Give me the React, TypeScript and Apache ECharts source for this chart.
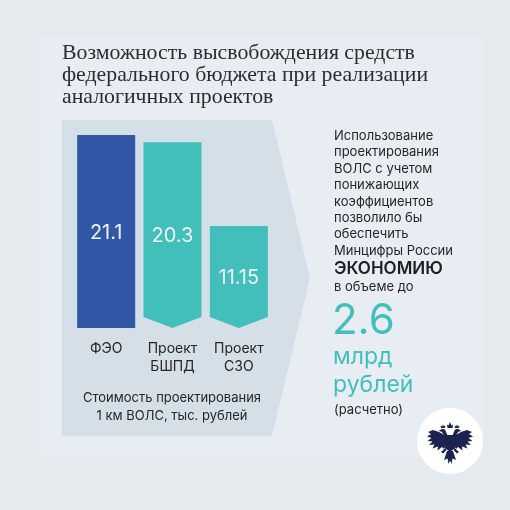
import React, { useEffect, useRef } from 'react';
import * as echarts from 'echarts';

const categories = ['ФЭО', 'Проект\nБШПД', 'Проект\nСЗО'];
const values = [21.1, 20.3, 11.15];
const barColors = ['#3357a7', '#43bfbb', '#43bfbb'];
const chevronBottom = [false, true, true];

const titleLines = [
  'Возможность высвобождения средств',
  'федерального бюджета при реализации',
  'аналогичных проектов',
];
const axisCaption = ['Стоимость проектирования', '1 км ВОЛС, тыс. рублей'];
const noteLines = [
  'Использование',
  'проектирования',
  'ВОЛС с учетом',
  'понижающих',
  'коэффициентов',
  'позволило бы',
  'обеспечить',
  'Минцифры России',
];
const highlightWord = 'ЭКОНОМИЮ';
const volumeText = 'в объеме до';
const savingValue = '2.6';
const savingUnitLines = ['млрд', 'рублей'];
const footnote = '(расчетно)';

const EAGLE_HALF =
  'M19 15 L12 11 L6 9 L1 11 L4 13 L0 15.5 L4.5 17 L0.5 20 L5.5 20.5 L2 24 L7.5 23.5 L5.5 27.5 L11 25.5 L10.5 29.5 L15 26 L17 28 L19 24 Z ' +
  'M21 16 C20 13 19 11 18.5 9.5 C17.5 8 15.5 7.8 14 8.5 L11.5 10 L14 10.5 C15 11 16 12.5 17 14 L19 17 Z ' +
  'M14 7 L13.5 4.5 L15 5.5 L16 3.5 L17 5.5 L18.5 4.5 L18 7 Z ' +
  'M18.5 27 L14 31 L16 32.5 L19.5 29 Z';
const EAGLE_CORE =
  'M20.5 7 L20 3.5 L21.5 4.5 L23 1 L24.5 4.5 L26 3.5 L25.5 7 Z ' +
  'M18.5 14 L27.5 14 L28 27 L23 31 L18 27 Z ' +
  'M26 30 L29 39 L25.5 37.5 L24.5 43 L23 39.5 L21.5 43 L20.5 37.5 L17 39 L20 30 Z';

let shapesRegistered = false;
function registerShapes() {
  if (shapesRegistered) return;
  echarts.graphic.registerShape('eagleHalf', echarts.graphic.extendPath(EAGLE_HALF, {}) as any);
  echarts.graphic.registerShape('eagleCore', echarts.graphic.extendPath(EAGLE_CORE, {}) as any);
  shapesRegistered = true;
}

export default function App() {
  const ref = useRef<HTMLDivElement>(null);
  useEffect(() => {
    if (!ref.current) return;
    registerShapes();
    const chart = echarts.init(ref.current, null, { renderer: 'svg', width: 510, height: 510 });
    const dark = '#262626';
    const teal = '#43bfbb';
    const sans = 'Inter';
    const ex = 427;
    const ey = 421;
    chart.setOption({
      animation: false,
      grid: { left: 73, right: 238, top: 135, bottom: 182 },
      xAxis: {
        type: 'category',
        data: categories,
        axisLine: { show: false },
        axisTick: { show: false },
        axisLabel: { fontSize: 14, color: dark, lineHeight: 18, margin: 10, fontFamily: sans },
      },
      yAxis: { type: 'value', min: 0, max: 21.1, show: false, splitLine: { show: false } },
      graphic: [
        { type: 'rect', z: -20, shape: { x: 0, y: 0, width: 510, height: 510 }, style: { fill: '#e4eaee' } },
        { type: 'rect', z: -19, shape: { x: 40, y: 36, width: 443, height: 421 }, style: { fill: '#e8edf4' } },
        {
          type: 'polygon',
          z: -18,
          shape: { points: [[62, 120], [272, 120], [310, 278], [272, 436], [62, 436]] },
          style: { fill: '#d5dfe8' },
        },
        {
          type: 'text',
          x: 62,
          y: 40.5,
          style: {
            text: titleLines.join('\n'),
            fontFamily: 'Liberation Serif',
            fontSize: 21.8,
            lineHeight: 22,
            fill: '#2c2c2c',
            verticalAlign: 'top',
          },
        },
        {
          type: 'text',
          x: 172,
          y: 388,
          style: {
            text: axisCaption.join('\n'),
            fontFamily: sans,
            fontSize: 13,
            lineHeight: 18.3,
            fill: dark,
            align: 'center',
            verticalAlign: 'top',
          },
        },
        {
          type: 'text',
          x: 334,
          y: 126.8,
          style: { text: noteLines.join('\n'), fontFamily: sans, fontSize: 13, lineHeight: 16.4, fill: dark, verticalAlign: 'top' },
        },
        {
          type: 'text',
          x: 334,
          y: 268.3,
          style: { text: highlightWord, fontFamily: sans, fontSize: 17, fontWeight: 600, fill: '#1e1e1e', verticalAlign: 'middle' },
        },
        {
          type: 'text',
          x: 334,
          y: 285.7,
          style: { text: volumeText, fontFamily: sans, fontSize: 13, fill: dark, verticalAlign: 'middle' },
        },
        {
          type: 'text',
          x: 332,
          y: 318,
          style: { text: savingValue, fontFamily: sans, fontSize: 42, fill: teal, verticalAlign: 'middle' },
        },
        {
          type: 'text',
          x: 333,
          y: 356,
          style: { text: savingUnitLines[0], fontFamily: sans, fontSize: 23, fill: teal, verticalAlign: 'middle' },
        },
        {
          type: 'text',
          x: 333,
          y: 384,
          style: { text: savingUnitLines[1], fontFamily: sans, fontSize: 23, fill: teal, verticalAlign: 'middle' },
        },
        {
          type: 'text',
          x: 334,
          y: 408.5,
          style: { text: footnote, fontFamily: sans, fontSize: 13, fill: dark, verticalAlign: 'middle' },
        },
        { type: 'circle', z: -10, shape: { cx: 450, cy: 441, r: 33 }, style: { fill: '#ffffff' } },
        { type: 'eagleHalf', x: ex, y: ey, style: { fill: '#1b2450' } },
        { type: 'eagleHalf', x: ex + 46, y: ey, scaleX: -1, style: { fill: '#1b2450' } },
        { type: 'eagleCore', x: ex, y: ey, style: { fill: '#1b2450' } },
      ],
      series: [
        {
          type: 'custom',
          data: values.map((v, i) => [i, v]),
          renderItem: (params: any, api: any) => {
            const idx = api.value(0);
            const val = api.value(1);
            const top = api.coord([idx, val]);
            const base = api.coord([idx, 0]);
            const w = api.size([1, 0])[0] * 0.875;
            const x0 = top[0] - w / 2;
            const x1 = top[0] + w / 2;
            const notch = chevronBottom[idx] ? 11 : 0;
            const points = [
              [x0, top[1]],
              [x1, top[1]],
              [x1, base[1] - notch],
              [top[0], base[1]],
              [x0, base[1] - notch],
            ];
            return {
              type: 'group',
              children: [
                { type: 'polygon', shape: { points }, style: { fill: barColors[idx] } },
                {
                  type: 'text',
                  style: {
                    text: String(values[idx]),
                    x: top[0],
                    y: (top[1] + base[1]) / 2,
                    align: 'center',
                    verticalAlign: 'middle',
                    fill: '#eef3f8',
                    fontSize: 20,
                    fontFamily: sans,
                  },
                },
              ],
            };
          },
        },
      ],
    });
    return () => chart.dispose();
  }, []);
  return <div ref={ref} style={{ position: 'fixed', left: 0, top: 0, width: 510, height: 510 }} />;
}
